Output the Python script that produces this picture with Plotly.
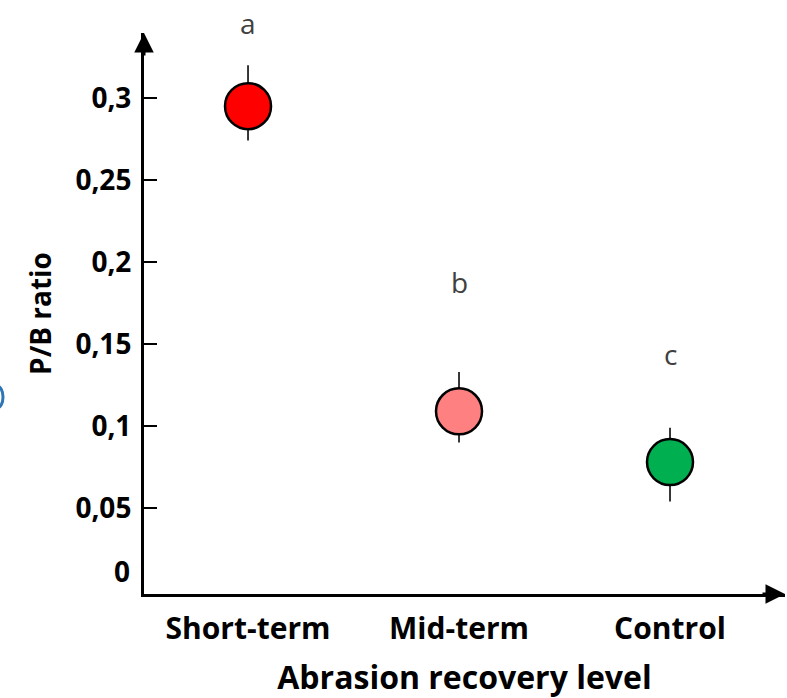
import plotly.graph_objects as go

# ---- data ----
categories = ["Short-term", "Mid-term", "Control"]
pb_ratio = [0.295, 0.109, 0.078]
err_plus = [0.025, 0.024, 0.021]
err_minus = [0.021, 0.019, 0.024]
marker_colors = ["#FF0000", "#FF8080", "#00B050"]
letters = ["a", "b", "c"]
letter_y = [0.346, 0.188, 0.144]
y_tick_vals = [0.05, 0.1, 0.15, 0.2, 0.25, 0.3]
y_tick_text = ["0,05", "0,1", "0,15", "0,2", "0,25", "0,3"]

x_idx = list(range(len(categories)))
Y_RANGE = [-0.0024, 0.3396]

FONT = "Open Sans"
fig = go.Figure()

fig.add_trace(go.Scatter(
    x=x_idx, y=pb_ratio, mode="markers",
    marker=dict(size=46, color=marker_colors, line=dict(color="black", width=2.5)),
    error_y=dict(type="data", symmetric=False, array=err_plus, arrayminus=err_minus,
                 color="#222222", thickness=1.8, width=0),
    cliponaxis=False, showlegend=False, hoverinfo="skip",
))

# letters placed via the y-axis domain so that ones above the axis top still show
letter_annots = [
    dict(x=xi, xref="x", y=(yi - Y_RANGE[0]) / (Y_RANGE[1] - Y_RANGE[0]), yref="y domain",
         text=t, showarrow=False, xanchor="center", yanchor="middle",
         font=dict(family=FONT, size=28, color="#404040"))
    for xi, yi, t in zip(x_idx, letter_y, letters)
]

fig.update_layout(
    width=787, height=698,
    margin=dict(l=144, r=2, t=33, b=104, autoexpand=False),
    paper_bgcolor="white", plot_bgcolor="white",
    font=dict(family=FONT, color="black"),
    xaxis=dict(
        range=[-0.493, 2.545], showgrid=False, zeroline=False, automargin=False,
        showline=True, linecolor="black", linewidth=3,
        tickvals=x_idx, ticktext=[f"<b>{c}</b>" for c in categories],
        ticks="", tickfont=dict(family=FONT, size=30, color="black"),
        ticklabelstandoff=6,
        title=dict(text="<b>Abrasion recovery level</b>",
                   font=dict(family=FONT, size=32, color="black"), standoff=30),
    ),
    yaxis=dict(
        range=Y_RANGE, showgrid=False, zeroline=False, automargin=False,
        showline=True, linecolor="black", linewidth=3,
        tickvals=y_tick_vals, ticktext=[f"<b>{t}</b>" for t in y_tick_text],
        ticks="inside", ticklen=13, tickwidth=2, tickcolor="black",
        tickfont=dict(family=FONT, size=28, color="black"),
        ticklabelstandoff=4,
        title=dict(text="<b>P/B ratio</b>",
                   font=dict(family=FONT, size=28, color="black"), standoff=16),
    ),
    annotations=letter_annots + [
        # zero label (no tick at zero in the original)
        dict(x=0, xref="paper", y=0, yref="y", text="<b>0</b>", showarrow=False,
             xanchor="right", yanchor="middle", xshift=-12, yshift=19,
             font=dict(family=FONT, size=28, color="black")),
        # arrow heads on axes
        dict(x=0, xref="paper", y=1, yref="paper", ax=0, ay=24, text="",
             showarrow=True, arrowhead=2, arrowsize=1.3, arrowwidth=3, arrowcolor="black"),
        dict(x=1, xref="paper", y=0, yref="paper", ax=-24, ay=0, text="",
             showarrow=True, arrowhead=2, arrowsize=1.3, arrowwidth=3, arrowcolor="black"),
    ],
    shapes=[
        dict(type="circle", xref="paper", yref="y", xsizemode="pixel", ysizemode="pixel",
             xanchor=-144 / 641, yanchor=0.1177, x0=-9, x1=3, y0=-11, y1=11,
             line=dict(color="#2E75B6", width=3), layer="above"),
    ],
)

fig.write_html("out.html")
